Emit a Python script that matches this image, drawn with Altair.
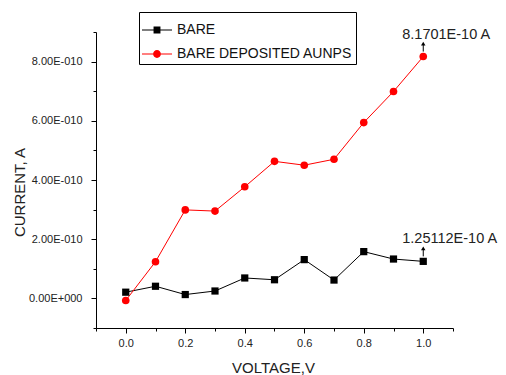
import altair as alt
import pandas as pd

# ---- data ----
voltage = [0.0, 0.1, 0.2, 0.3, 0.4, 0.5, 0.6, 0.7, 0.8, 0.9, 1.0]
bare = [2.1e-11, 4.1e-11, 1.3e-11, 2.5e-11, 6.9e-11, 6.3e-11, 1.31e-10, 6.2e-11, 1.58e-10, 1.33e-10, 1.25112e-10]
aunps = [-0.7e-11, 1.24e-10, 2.99e-10, 2.95e-10, 3.77e-10, 4.63e-10, 4.50e-10, 4.70e-10, 5.94e-10, 6.99e-10, 8.1701e-10]
series_names = ["BARE", "BARE DEPOSITED AUNPS"]
series_colors = ["#000000", "#ff0000"]
ann_x = [1.0, 1.0]
ann_y = [8.1701e-10, 1.25112e-10]
ann_labels = ["8.1701E-10 A", "1.25112E-10 A"]
x_major = [0.0, 0.2, 0.4, 0.6, 0.8, 1.0]
x_minor = [-0.1, 0.1, 0.3, 0.5, 0.7, 0.9, 1.1]
y_major = [0.0, 2e-10, 4e-10, 6e-10, 8e-10]
y_minor = [-1e-10, 1e-10, 3e-10, 5e-10, 7e-10, 9e-10]

df = pd.DataFrame({
    "voltage": voltage * 2,
    "current": bare + aunps,
    "series": [series_names[0]] * len(voltage) + [series_names[1]] * len(voltage),
})
ann = pd.DataFrame({"voltage": ann_x, "current": ann_y, "label": ann_labels})

FONT = "Liberation Sans"

x_scale = alt.Scale(domain=[-0.1, 1.1], nice=False, zero=False)
y_scale = alt.Scale(domain=[-1e-10, 9e-10], nice=False, zero=False)

x_axis = alt.Axis(
    values=x_major, format=".1f", orient="bottom",
    tickSize=5, labelPadding=4, labelFontSize=11, labelFont=FONT, labelColor="#222",
    labelOverlap=False, labelFlush=False,
    domainColor="black", tickColor="black", grid=False,
    title="VOLTAGE,V", titleFont=FONT, titleFontSize=15, titleFontWeight="normal",
    titleColor="#222", titleX=177, titleY=44, titleBaseline="alphabetic",
)
y_axis = alt.Axis(
    values=y_major, orient="left",
    labelExpr="datum.value == 0 ? '0.00E+000' : format(round(datum.value*1e10), '.2f') + 'E-010'",
    tickSize=5, labelPadding=9, labelFontSize=11, labelFont=FONT, labelColor="#222",
    labelOverlap=False, labelFlush=False,
    domainColor="black", tickColor="black", grid=False,
    title="CURRENT, A", titleFont=FONT, titleFontSize=15, titleFontWeight="normal",
    titleColor="#222", titleX=-77, titleY=160, titleBaseline="middle",
)
x_minor_axis = alt.Axis(values=x_minor, orient="bottom", tickSize=3, labels=False, domain=False,
                        title=None, grid=False, tickColor="black")
y_minor_axis = alt.Axis(values=y_minor, orient="left", tickSize=3, labels=False, domain=False,
                        title=None, grid=False, tickColor="black")

col_scale = alt.Scale(domain=series_names, range=series_colors)

legend_paths = [
    "M-1,-0.035H1V0.035H-1ZM-0.23,-0.23H0.23V0.23H-0.23Z",
    "M-1,-0.035H1V0.035H-1ZM-0.26,0A0.26,0.26,0,1,1,0.26,0A0.26,0.26,0,1,1,-0.26,0Z",
]
leg = alt.Legend(
    title=None, orient="none", legendX=43, legendY=-20,
    strokeColor="black", fillColor="white", padding=3, cornerRadius=0,
    labelFont=FONT, labelFontSize=14, labelColor="#111", labelOffset=5, labelLimit=300,
    symbolSize=900, symbolStrokeWidth=0, rowPadding=2,
)

lines = alt.Chart(df).mark_line(strokeWidth=1).encode(
    x=alt.X("voltage:Q", scale=x_scale, axis=x_axis),
    y=alt.Y("current:Q", scale=y_scale, axis=y_axis),
    color=alt.Color("series:N", scale=col_scale, legend=leg),
)
minor = alt.Chart(df).mark_line(strokeWidth=0, opacity=0).encode(
    x=alt.X("voltage:Q", scale=x_scale, axis=x_minor_axis),
    y=alt.Y("current:Q", scale=y_scale, axis=y_minor_axis),
    detail="series:N",
)
sq = alt.Chart(df).transform_filter(alt.datum.series == series_names[0]).mark_point(
    shape="square", filled=True, opacity=1, size=52, color=series_colors[0]
).encode(x=alt.X("voltage:Q", axis=None), y=alt.Y("current:Q", axis=None))
ci = alt.Chart(df).transform_filter(alt.datum.series == series_names[1]).mark_point(
    shape="circle", filled=True, opacity=1, size=58, color=series_colors[1]
).encode(x=alt.X("voltage:Q", axis=None), y=alt.Y("current:Q", axis=None))

legend_layer = alt.Chart(df).mark_point(filled=True, opacity=1, clip=True).encode(
    x=alt.value(-60), y=alt.value(-60),
    color=alt.Color("series:N", scale=col_scale, legend=leg),
    shape=alt.Shape("series:N", scale=alt.Scale(domain=series_names, range=legend_paths), legend=leg),
)

arrows = alt.Chart(ann).mark_rule(color="black", strokeWidth=1, yOffset=-5, y2Offset=-12).encode(
    x=alt.X("voltage:Q", axis=None), y=alt.Y("current:Q", axis=None), y2="current:Q",
)
heads = alt.Chart(ann).mark_point(shape="triangle-up", filled=True, color="black", opacity=1, size=20, yOffset=-13).encode(
    x=alt.X("voltage:Q", axis=None), y=alt.Y("current:Q", axis=None),
)
texts = alt.Chart(ann).mark_text(align="left", baseline="middle", dx=-21, dy=-22, font=FONT, fontSize=14.5, color="#222").encode(
    x=alt.X("voltage:Q", axis=None), y=alt.Y("current:Q", axis=None), text="label:N",
)

chart = alt.layer(legend_layer, lines, minor, sq, ci, arrows, heads, texts).resolve_axis(
    x="independent", y="independent"
).properties(
    width=357, height=296,
    autosize=alt.AutoSizeParams(type="none"),
    padding={"left": 88, "top": 24, "right": 45, "bottom": 47},
).configure_view(stroke=None)

chart.save("out.html", embed_options={"renderer": "svg", "actions": False})
